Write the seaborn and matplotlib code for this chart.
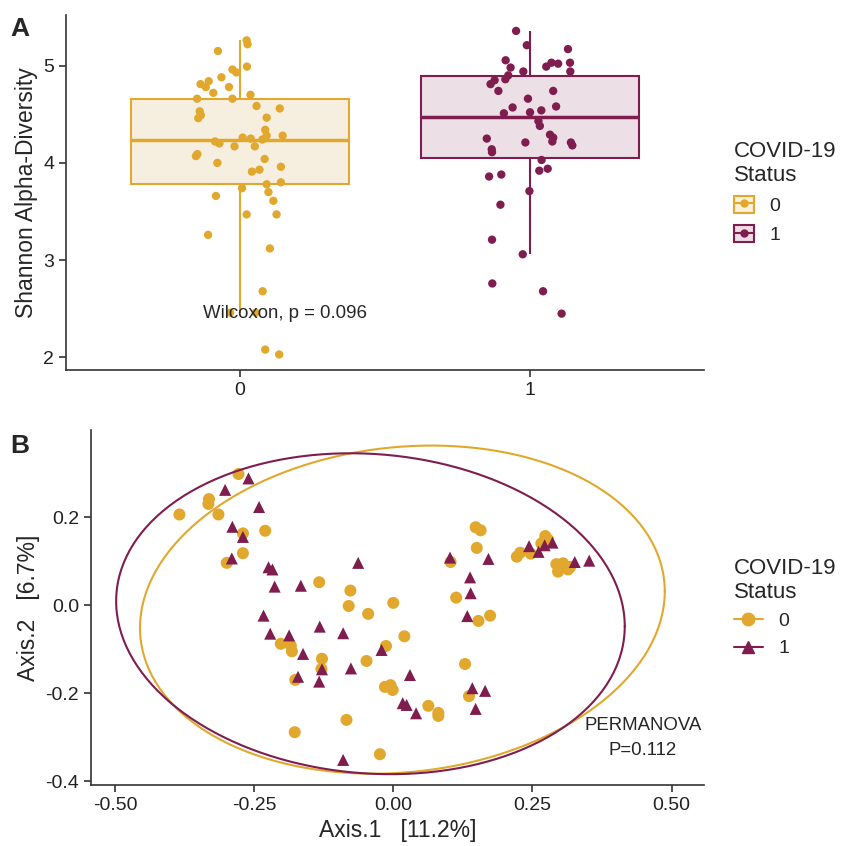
import numpy as np
import pandas as pd
import seaborn as sns
import matplotlib.pyplot as plt
from matplotlib.lines import Line2D
from matplotlib.patches import Patch

# ---- panel A data: Shannon diversity per sample, with the jitter offset seen in the figure
shannon_0 = [5.26, 5.22, 5.15, 4.99, 4.96, 4.93, 4.88, 4.81, 4.84, 4.78, 4.78, 4.72, 4.70,
             4.66, 4.66, 4.585, 4.56, 4.53, 4.49, 4.46, 4.465, 4.34, 4.28, 4.28, 4.26, 4.25,
             4.24, 4.22, 4.20, 4.17, 4.17, 4.09, 4.07, 4.00, 4.04, 3.96, 3.93, 3.91, 3.78,
             3.80, 3.74, 3.70, 3.66, 3.61, 3.47, 3.47, 3.26, 3.12, 2.68, 2.46, 2.46, 2.08, 2.03]
jitter_0 = [0.023, 0.026, -0.076, 0.024, -0.026, -0.013, -0.064, -0.136, -0.108, -0.118,
            -0.038, -0.092, 0.036, -0.148, -0.026, 0.057, 0.137, -0.139, -0.135, -0.144,
            0.092, 0.087, 0.147, 0.092, 0.009, 0.037, 0.077, -0.086, -0.071, -0.019, 0.051,
            -0.147, -0.152, -0.078, 0.085, 0.141, 0.067, 0.041, 0.092, 0.141, 0.007, 0.098,
            -0.083, 0.115, 0.023, 0.126, -0.110, 0.103, 0.078, 0.054, -0.034, 0.087, 0.135]
shannon_1 = [5.357, 5.21, 5.17, 5.055, 5.03, 4.98, 4.94, 4.99, 5.03, 5.02, 4.94, 4.90, 4.86,
             4.85, 4.81, 4.74, 4.74, 4.66, 4.58, 4.57, 4.54, 4.51, 4.52, 4.43, 4.38, 4.29,
             4.26, 4.22, 4.25, 4.21, 4.21, 4.18, 4.14, 4.11, 4.03, 3.94, 3.92, 3.88, 3.86,
             3.71, 3.57, 3.21, 3.06, 2.76, 2.68, 2.45]
jitter_1 = [-0.048, -0.011, 0.131, -0.084, 0.138, -0.067, -0.023, 0.056, 0.074, 0.097,
            0.139, -0.075, -0.085, -0.122, -0.136, -0.109, 0.080, -0.007, 0.090, -0.060,
            0.039, -0.090, 0.0, 0.029, 0.034, 0.069, 0.080, 0.077, -0.149, -0.016, 0.141,
            0.146, -0.132, -0.131, 0.040, 0.061, 0.032, -0.099, -0.141, -0.002, -0.102,
            -0.131, -0.025, -0.130, 0.045, 0.109]

# ---- panel B data: PCoA coordinates
axis1_0 = [-0.384, -0.278, -0.331, -0.332, -0.314, -0.270, -0.230, -0.270, -0.299, -0.133,
           -0.077, -0.080, -0.045, 0.000, 0.020, -0.013, -0.048, -0.202, -0.184, -0.182,
           -0.128, -0.129, -0.176, -0.015, -0.005, -0.001, -0.084, -0.177, -0.024,
           0.148, 0.157, 0.150, 0.103, 0.222, 0.228, 0.247, 0.266, 0.273, 0.278, 0.293,
           0.305, 0.296, 0.314, 0.318, 0.113, 0.153, 0.174, 0.129, 0.136, 0.063, 0.081, 0.081]
axis2_0 = [0.206, 0.298, 0.241, 0.230, 0.206, 0.163, 0.169, 0.118, 0.096, 0.052,
           0.033, -0.002, -0.020, 0.005, -0.071, -0.093, -0.127, -0.088, -0.092, -0.105,
           -0.122, -0.145, -0.170, -0.186, -0.182, -0.193, -0.261, -0.289, -0.339,
           0.177, 0.170, 0.130, 0.098, 0.110, 0.119, 0.117, 0.140, 0.157, 0.149, 0.093,
           0.095, 0.076, 0.081, 0.087, 0.017, -0.036, -0.024, -0.134, -0.207, -0.229, -0.245, -0.252]
axis1_1 = [-0.260, -0.302, -0.241, -0.289, -0.270, -0.290, -0.224, -0.217, -0.213, -0.166,
           -0.063, -0.233, -0.221, -0.187, -0.162, -0.132, -0.090, -0.021, -0.076, -0.128,
           -0.171, -0.133, 0.030, 0.017, 0.024, 0.041, -0.090,
           0.102, 0.171, 0.244, 0.261, 0.272, 0.286, 0.326, 0.352, 0.138, 0.139, 0.133,
           0.142, 0.165, 0.148]
axis2_1 = [0.288, 0.262, 0.223, 0.178, 0.155, 0.106, 0.086, 0.081, 0.042, 0.044,
           0.096, -0.024, -0.065, -0.069, -0.111, -0.049, -0.064, -0.102, -0.144, -0.146,
           -0.163, -0.174, -0.159, -0.223, -0.227, -0.246, -0.352,
           0.108, 0.105, 0.134, 0.121, 0.136, 0.142, 0.098, 0.101, 0.063, 0.027, -0.025,
           -0.189, -0.195, -0.236]

status_labels = ["0", "1"]
colors = {"0": "#E1A82D", "1": "#7F1D4F"}
fills = {"0": "#FAF0DC", "1": "#EEDDE5"}

df_a = pd.DataFrame({
    "status": ["0"] * len(shannon_0) + ["1"] * len(shannon_1),
    "shannon": shannon_0 + shannon_1,
    "jit": jitter_0 + jitter_1,
})
df_a["xpos"] = df_a["status"].astype(int) + df_a["jit"]

df_b = pd.DataFrame({
    "status": ["0"] * len(axis1_0) + ["1"] * len(axis1_1),
    "ax1": axis1_0 + axis1_1,
    "ax2": axis2_0 + axis2_1,
})


def cov_trob(x, nu=5, maxit=25, tol=0.01):
    # multivariate t estimate of location/scatter (like MASS::cov.trob)
    n, p = x.shape
    loc = x.mean(axis=0)
    w = np.ones(n)
    for _ in range(maxit):
        w0 = w
        X = x - loc
        _, d, vt = np.linalg.svd(np.sqrt(w / w.sum())[:, None] * X, full_matrices=False)
        wX = X @ vt.T @ np.diag(1 / d)
        Q = (wX ** 2).sum(axis=1)
        w = (nu + p) / (nu + Q)
        loc = (w[:, None] * x).sum(axis=0) / w.sum()
        if np.all(np.abs(w - w0) < tol):
            break
    X = x - loc
    cov = (np.sqrt(w)[:, None] * X).T @ (np.sqrt(w)[:, None] * X) / n
    return loc, cov


sns.set_style("white")
plt.rcParams["font.family"] = ["Liberation Sans", "DejaVu Sans"]

fig = plt.figure(figsize=(8.42, 8.46), dpi=100)
ax1 = fig.add_axes([0.0784, 0.5626, 0.7577, 0.4196])
ax2 = fig.add_axes([0.108, 0.0721, 0.728, 0.4196])

# ---- panel A
sns.boxplot(data=df_a, x="status", y="shannon", hue="status", order=status_labels,
            palette=fills, width=0.75, showfliers=False, legend=False, ax=ax1,
            whis=1.5, linewidth=1.5)
for i, patch in enumerate(ax1.patches):
    patch.set_edgecolor(colors[status_labels[i]])
for i, lab in enumerate(status_labels):
    for ln in ax1.lines[i * 5:(i + 1) * 5]:
        ln.set_color(colors[lab])
    ax1.lines[i * 5 + 4].set_linewidth(2.5)
# whisker caps hidden (ggplot has none)
for ln in ax1.lines:
    xd = ln.get_xdata()
    if len(xd) == 2 and xd[0] != xd[1] and abs(xd[1] - xd[0]) < 0.5:
        ln.set_visible(False)

sns.scatterplot(data=df_a, x="xpos", y="shannon", hue="status", palette=colors,
                s=36, edgecolor="none", legend=False, ax=ax1, zorder=5)
ax1.set_xlim(-0.6, 1.6)
ax1.set_ylim(1.87, 5.52)
ax1.set_xticks([0, 1])
ax1.set_xticklabels(status_labels)
ax1.set_yticks([2, 3, 4, 5])
ax1.set_xlabel("")
ax1.set_ylabel("Shannon Alpha-Diversity", fontsize=16.5)
ax1.text(0.155, 2.45, "Wilcoxon, p = 0.096", ha="center", va="center", fontsize=13.4,
         zorder=6)

handles_a = [(Patch(facecolor=fills[l], edgecolor=colors[l], linewidth=1.5),
              Line2D([0], [0], color=colors[l], linewidth=1.5),
              Line2D([0], [0], linestyle="none", marker="o", color=colors[l], markersize=5))
             for l in status_labels]
ax1.legend(handles_a, status_labels, title="COVID-19\nStatus", loc="center left",
           bbox_to_anchor=(1.02, 0.5), frameon=False, fontsize=14, title_fontsize=16,
           alignment="left", handlelength=1.0, handleheight=1.0)

# ---- panel B
markers = {"0": "o", "1": "^"}
sns.scatterplot(data=df_b, x="ax1", y="ax2", hue="status", style="status",
                markers=markers, palette=colors, s=75, edgecolor="none",
                legend=False, ax=ax2, hue_order=status_labels, style_order=status_labels)

# 95% t-based ellipses (as stat_ellipse)
theta = np.linspace(0, 2 * np.pi, 300)
circle = np.vstack([np.cos(theta), np.sin(theta)])
for lab in status_labels:
    sub = df_b[df_b["status"] == lab][["ax1", "ax2"]].to_numpy()
    center, cov = cov_trob(sub)
    radius = np.sqrt(2 * 3.20)
    chol = np.linalg.cholesky(cov)
    pts = center[:, None] + radius * chol @ circle
    ax2.plot(pts[0], pts[1], color=colors[lab], linewidth=1.5)

ax2.set_xlim(-0.543, 0.558)
ax2.set_ylim(-0.409, 0.398)
ax2.set_xticks([-0.5, -0.25, 0, 0.25, 0.5])
ax2.set_xticklabels(["-0.50", "-0.25", "0.00", "0.25", "0.50"])
ax2.set_yticks([-0.4, -0.2, 0.0, 0.2])
ax2.set_yticklabels(["-0.4", "-0.2", "0.0", "0.2"])
ax2.set_xlabel("Axis.1   [11.2%]", fontsize=16.5)
ax2.set_ylabel("Axis.2   [6.7%]", fontsize=16.5)
ax2.text(0.448, -0.302, "PERMANOVA\nP=0.112", ha="center", va="center", fontsize=13.4,
         linespacing=1.6)

handles_b = [Line2D([0], [0], color=colors[l], marker=markers[l], markersize=9,
                    linewidth=1.5) for l in status_labels]
ax2.legend(handles_b, status_labels, title="COVID-19\nStatus", loc="center left",
           bbox_to_anchor=(1.02, 0.5), frameon=False, fontsize=14, title_fontsize=16,
           alignment="left", handlelength=1.5)

for ax in (ax1, ax2):
    sns.despine(ax=ax)
    for sp in ("left", "bottom"):
        ax.spines[sp].set_color("#333333")
        ax.spines[sp].set_linewidth(1.2)
    ax.tick_params(axis="both", labelsize=14, length=5, width=1.2, color="#333333",
                   direction="out", left=True, bottom=True, colors="#333333")
    ax.tick_params(axis="both", labelcolor="#222222")

fig.text(0.012, 0.966, "A", fontsize=19, fontweight="bold", va="center")
fig.text(0.012, 0.473, "B", fontsize=19, fontweight="bold", va="center")

fig.savefig("out.png", dpi=100, facecolor="white")
